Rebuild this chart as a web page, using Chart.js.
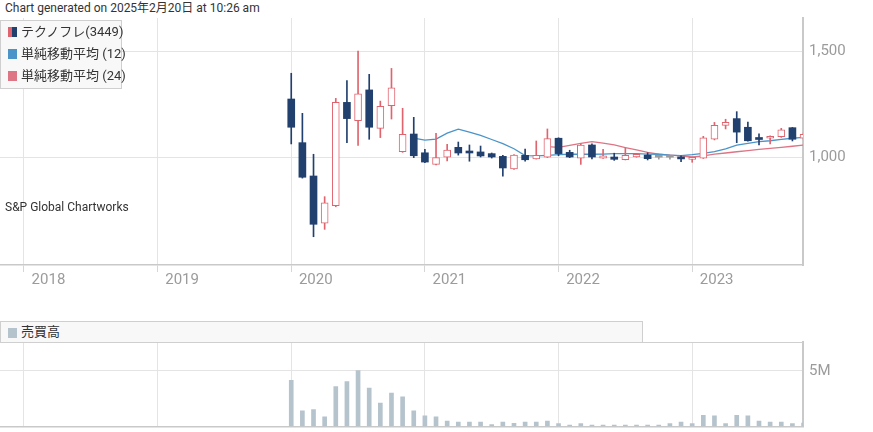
<!DOCTYPE html>
<html>
<head>
<meta charset="utf-8">
<script src="https://cdn.jsdelivr.net/npm/chart.js@4.4.1/dist/chart.umd.min.js"></script>
<style>
  body { margin:0; width:873px; height:432px; position:relative; overflow:hidden; background:#fff;
         font-family: Roboto, "Noto Sans CJK JP", sans-serif; color:#333; }
  #title { position:absolute; left:5px; top:0px; font-size:12px; line-height:17px; white-space:nowrap; }
  #priceCanvas { position:absolute; left:0; top:0; }
  #volCanvas { position:absolute; left:0; top:341px; }
  #volTop { position:absolute; left:642px; top:342px; width:161px; height:1px; background:#cfcfcf; }
  .legend { position:absolute; left:0; background:#f8f8f8; border:1px solid #cfcfcf; box-sizing:border-box; font-size:13px; }
  .legend .row { position:relative; height:22px; line-height:22px; padding-left:20px; white-space:nowrap; }
  .legend .sw { position:absolute; left:7px; top:6px; width:9px; height:10px; }
  #legendPrice { top:20px; width:122px; height:69px; }
  #legendVol { top:321px; width:643px; height:22px; }
  #legendVol .row { height:20px; line-height:20px; }
  #legendVol .sw { top:6px; }
  #credit { position:absolute; left:5px; top:199px; font-size:12px; line-height:16px; white-space:nowrap; }
</style>
</head>
<body>
<div id="title">Chart generated on 2025年2月20日 at 10:26 am</div>
<canvas id="priceCanvas" width="873" height="300"></canvas>
<canvas id="volCanvas" width="873" height="91"></canvas>
<div id="volTop"></div>
<div id="credit">S&amp;P Global Chartworks</div>
<div class="legend" id="legendPrice">
  <div class="row"><span class="sw" style="background:linear-gradient(to right,#e0646e 50%,#22406e 50%)"></span>テクノフレ(3449)</div>
  <div class="row"><span class="sw" style="background:#4a94c9"></span>単純移動平均 (12)</div>
  <div class="row"><span class="sw" style="background:#dd7585"></span>単純移動平均 (24)</div>
</div>
<div class="legend" id="legendVol">
  <div class="row"><span class="sw" style="background:#b5c3cd"></span>売買高</div>
</div>
<script>
// monthly bars, Jan 2020 - Nov 2023
const months = [
  '2020-01','2020-02','2020-03','2020-04','2020-05','2020-06','2020-07','2020-08','2020-09','2020-10','2020-11','2020-12',
  '2021-01','2021-02','2021-03','2021-04','2021-05','2021-06','2021-07','2021-08','2021-09','2021-10','2021-11','2021-12',
  '2022-01','2022-02','2022-03','2022-04','2022-05','2022-06','2022-07','2022-08','2022-09','2022-10','2022-11','2022-12',
  '2023-01','2023-02','2023-03','2023-04','2023-05','2023-06','2023-07','2023-08','2023-09','2023-10','2023-11'
];
const openP  = [1275,1068,910,686,769,1259,1172,1318,1136,1243,1025,1109,
                1020,965,999,1046,1028,1024,1016,1003,943,1008,991,999,
                1089,1022,995,1057,994,1000,987,1000,1009,999,999,1000,
                989,994,1084,1150,1182,1141,1089,1089,1096,1139,1089];
const highP  = [1397,1207,1013,812,1278,1362,1502,1392,1265,1420,1231,1188,
                1036,1112,1060,1071,1057,1052,1019,1008,1012,1038,1076,1133,
                1091,1032,1063,1062,1036,1018,1043,1014,1020,1007,1007,1005,
                1000,1098,1164,1179,1215,1166,1110,1100,1136,1140,1115];
const lowP   = [1062,900,622,657,764,1068,1055,1084,1092,1180,1022,997,
                973,963,981,1009,980,1000,995,909,941,980,990,997,
                1006,997,965,991,993,984,986,999,986,990,990,978,
                975,993,1081,1133,1068,1075,1057,1062,1093,1076,1085];
const closeP = [1141,904,681,783,1259,1182,1299,1141,1240,1328,1108,1006,
                976,997,1033,1019,1019,1005,1000,948,1009,987,1008,1087,
                1016,1000,1057,1000,1006,989,1008,1013,992,999,999,991,
                995,1091,1150,1164,1118,1077,1083,1096,1129,1084,1108];
const ma12 = [null,null,null,null,null,null,null,null,null,null,null,1089,
              1080,1085,1113,1132,1118,1102,1083,1063,1039,1007,1005,1008,
              1011,1013,1013,1013,1014,1016,1016,1016,1014,1013,1009,1007,
              1011,1017,1025,1038,1056,1065,1073,1077,1084,1089,1093];
const ma24 = [null,null,null,null,null,null,null,null,null,null,null,null,
              null,null,null,null,null,null,null,null,null,null,null,1049,
              1046,1055,1065,1073,1066,1057,1045,1034,1022,1013,1009,1005,
              1000,1005,1014,1019,1025,1030,1036,1041,1046,1051,1057];
// volume in millions of shares
const volume = [4.15,1.39,1.51,0.85,3.57,4.03,5.03,3.45,2.09,3.0,2.66,1.39,
                0.94,0.85,0.48,0.39,0.39,0.39,0.15,0.39,0.27,0.39,0.39,0.48,
                0.24,0.12,0.24,0.12,0.12,0.12,0.12,0.12,0.12,0.12,0.24,0.39,
                0.24,1.0,0.94,0.24,1.0,0.94,0.48,0.39,0.39,0.24,0.3];
const yearTicks = [2018,2019,2020,2021,2022,2023];
const priceTicks = [1000,1500];
const volTicks = [5];

const UP = '#e0646e', DOWN = '#22406e', FLAT = '#9a9a9a';
const GRID = '#e4e4e4', AXIS = '#c9c9c9', LABEL = '#9b9b9b';

// x value = months since Jan 2018
function monthX(s) {
  let p = s.split('-');
  return (parseInt(p[0]) - 2018) * 12 + parseInt(p[1]) - 1;
}
const xs = months.map(monthX);
const xMin = -2.15, xMax = 69.95;

function candleColor(i) {
  if (closeP[i] > openP[i]) return UP;
  if (closeP[i] < openP[i]) return DOWN;
  return FLAT;
}

Chart.defaults.font.family = 'Roboto, "Noto Sans CJK JP", sans-serif';
Chart.defaults.animation = false;

function xAxis(showLabels, height) {
  return {
    type: 'linear', min: xMin, max: xMax, offset: false,
    afterBuildTicks: s => { s.ticks = yearTicks.map(y => ({ value: (y - 2018) * 12 })); },
    afterFit: s => { s.height = height; s.paddingLeft = 0; s.paddingRight = 0; },
    grid: { color: GRID, offset: false, tickLength: 7, drawTicks: showLabels, tickColor: '#d6d6d6' },
    border: { color: AXIS, width: 1.5 },
    ticks: {
      display: showLabels, align: 'start', padding: -1, autoSkip: false, maxRotation: 0,
      color: LABEL, font: { size: 15 },
      callback: v => '\u2002' + (2018 + v / 12)
    }
  };
}

function yAxis(min, max, ticks, fmt) {
  return {
    type: 'linear', position: 'right', min: min, max: max,
    afterBuildTicks: s => { s.ticks = ticks.map(v => ({ value: v })); },
    afterFit: s => { s.width = 70; s.paddingTop = 0; s.paddingBottom = 0; },
    grid: { color: GRID, drawTicks: false },
    border: { color: AXIS, width: 2 },
    ticks: { padding: 6, color: LABEL, font: { size: 15 }, callback: fmt }
  };
}

new Chart(document.getElementById('priceCanvas'), {
  data: {
    datasets: [
      {
        type: 'bar', label: 'body', order: 1, grouped: false,
        data: xs.map((x, i) => ({ x: x, y: [openP[i], closeP[i]] })),
        backgroundColor: xs.map((x, i) => closeP[i] > openP[i] ? '#ffffff' : candleColor(i)),
        borderColor: xs.map((x, i) => candleColor(i)),
        borderWidth: xs.map((x, i) => closeP[i] > openP[i] ? 1 : 0),
        borderSkipped: false, barThickness: 7, minBarLength: 2
      },
      {
        type: 'bar', label: 'wick', order: 2, grouped: false,
        data: xs.map((x, i) => ({ x: x, y: [lowP[i], highP[i]] })),
        backgroundColor: xs.map((x, i) => candleColor(i)),
        barThickness: 1
      },
      {
        type: 'line', label: 'ma12', order: 3,
        data: xs.map((x, i) => ({ x: x, y: ma12[i] })).filter(p => p.y !== null),
        borderColor: '#4a94c9', borderWidth: 1.3, pointRadius: 0, tension: 0
      },
      {
        type: 'line', label: 'ma24', order: 4,
        data: xs.map((x, i) => ({ x: x, y: ma24[i] })).filter(p => p.y !== null),
        borderColor: '#dd7585', borderWidth: 1.3, pointRadius: 0, tension: 0
      }
    ]
  },
  options: {
    responsive: false,
    layout: { padding: { top: 18, left: 0, right: 0, bottom: 0 } },
    plugins: { legend: { display: false }, tooltip: { enabled: false } },
    scales: {
      x: xAxis(true, 35),
      y: yAxis(488, 1659, priceTicks, v => v.toLocaleString('en-US'))
    }
  }
});

new Chart(document.getElementById('volCanvas'), {
  type: 'bar',
  data: {
    datasets: [{
      label: '売買高',
      data: xs.map((x, i) => ({ x: x, y: volume[i] })),
      backgroundColor: '#b5c3cd', barThickness: 4
    }]
  },
  options: {
    responsive: false,
    layout: { padding: { top: 1, left: 0, right: 0, bottom: 0 } },
    plugins: { legend: { display: false }, tooltip: { enabled: false } },
    scales: {
      x: xAxis(false, 5.7),
      y: yAxis(0, 7.6, volTicks, v => v + 'M')
    }
  }
});
</script>
</body>
</html>
